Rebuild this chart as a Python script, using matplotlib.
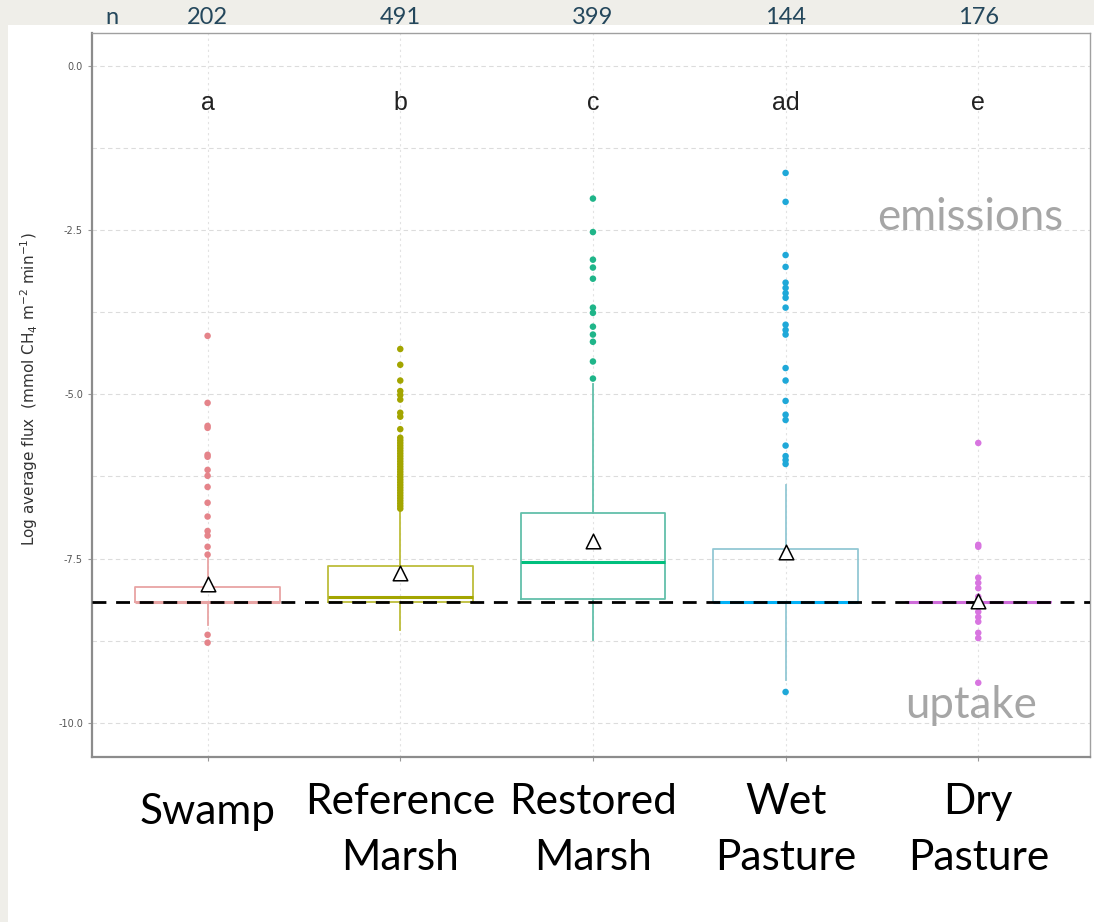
import matplotlib.pyplot as plt
import matplotlib.transforms as mtransforms
from matplotlib.patches import Rectangle

# Дані
sites = ["Swamp", "Reference\nMarsh", "Restored\nMarsh", "Wet\nPasture", "Dry\nPasture"]
n_obs = [202, 491, 399, 144, 176]
groups = ["a", "b", "c", "ad", "e"]

q1 = [-8.16, -8.16, -8.11, -8.16, -8.16]
medians = [-8.16, -8.08, -7.55, -8.16, -8.16]
q3 = [-7.93, -7.61, -6.80, -7.35, -8.16]
whis_lo = [-8.51, -8.58, -8.74, -9.35, -8.16]
whis_hi = [-7.49, -6.79, -4.84, -6.38, -8.16]
means = [-7.88, -7.72, -7.23, -7.40, -8.15]

out_swamp = [-4.11, -5.13, -5.48, -5.51, -5.92, -5.95, -6.15, -6.24, -6.41, -6.65,
             -6.86, -7.08, -7.15, -7.32, -7.44, -8.66, -8.78]
out_ref = [-4.31, -4.55, -4.79, -4.95, -5.01, -5.08, -5.28, -5.34, -5.53,
           -5.66, -5.70, -5.74, -5.78, -5.82, -5.86, -5.90, -5.94, -5.98, -6.02,
           -6.06, -6.10, -6.14, -6.18, -6.22, -6.26, -6.30, -6.34, -6.38, -6.42,
           -6.46, -6.50, -6.54, -6.58, -6.62, -6.66, -6.70, -6.74]
out_restored = [-2.02, -2.53, -2.95, -3.07, -3.24, -3.68, -3.76, -3.97, -4.09,
                -4.20, -4.50, -4.76]
out_wet = [-1.63, -2.07, -2.88, -3.06, -3.30, -3.38, -3.46, -3.53, -3.68, -3.94,
           -4.02, -4.09, -4.60, -4.79, -5.10, -5.31, -5.39, -5.78, -5.94, -6.00,
           -6.06, -9.53]
out_dry = [-5.74, -7.29, -7.32, -7.79, -7.87, -7.95, -8.08, -8.13, -8.31, -8.39,
           -8.46, -8.63, -8.71, -9.39]
outliers = [out_swamp, out_ref, out_restored, out_wet, out_dry]

zero_flux = -8.16

point_colors = ["#E5848A", "#A3A500", "#1FB589", "#1FA8D8", "#D875E0"]
box_colors = ["#E8A4A4", "#BDBD3A", "#62BFAA", "#93C8D4", "#DA8DE2"]
median_colors = ["#E8A4A4", "#A3A500", "#00BF7D", "#00B0F6", "#CF6BDA"]

fig = plt.figure(figsize=(10.94, 9.22), dpi=100, facecolor="#efeee9")
fig.add_artist(Rectangle((8 / 1094, 0), 1, (922 - 25) / 922, transform=fig.transFigure,
                         facecolor="white", edgecolor="none", zorder=-10))

ax = fig.add_axes([92 / 1094, 1 - 757 / 922, (1090 - 92) / 1094, (757 - 33) / 922])
ax.set_facecolor("white")

x = [1, 2, 3, 4, 5]
ax.set_xlim(0.4, 5.58)
ax.set_ylim(-10.52, 0.50)

# сітка
for yv in [0.0, -1.25, -2.5, -3.75, -5.0, -6.25, -7.5, -8.75, -10.0]:
    ax.axhline(yv, color="#dcdcdc", lw=0.8, ls=(0, (4, 3)), zorder=0)
for xv in x:
    ax.axvline(xv, color="#e2e2e2", lw=0.8, ls=(0, (2, 3)), zorder=0)

# boxplots
stats = []
for i in range(5):
    stats.append(dict(q1=q1[i], med=medians[i], q3=q3[i], whislo=whis_lo[i],
                      whishi=whis_hi[i], fliers=[]))
for i in range(5):
    ax.bxp([stats[i]], positions=[x[i]], widths=0.75, showfliers=False, showcaps=False,
           boxprops=dict(color=box_colors[i], lw=1.3),
           whiskerprops=dict(color=box_colors[i], lw=1.3),
           medianprops=dict(color=median_colors[i], lw=2.2))
    ax.scatter([x[i]] * len(outliers[i]), outliers[i], s=22, color=point_colors[i],
               edgecolors="none", zorder=3)

ax.axhline(zero_flux, color="black", lw=2, ls=(0, (5, 3.5)), zorder=4)

ax.scatter(x, means, marker="^", s=110, facecolors="white", edgecolors="black",
           linewidths=1.1, zorder=5)

# букви груп
for i in range(5):
    ax.text(x[i], -0.56, groups[i], ha="center", va="center", fontsize=18,
            family="Liberation Sans", color="#222222")

ax.text(4.96, -2.31, "emissions", ha="center", va="center", fontsize=31.5,
        family="Lato", color="#a6a6a6")
ax.text(4.96, -9.74, "uptake", ha="center", va="center", fontsize=31.5,
        family="Lato", color="#a6a6a6")

# осі
ax.set_yticks([0.0, -2.5, -5.0, -7.5, -10.0])
ax.set_yticklabels(["0.0", "-2.5", "-5.0", "-7.5", "-10.0"], fontsize=7, color="#555555")
ax.set_xticks(x)
ax.set_xticklabels([])
ax.tick_params(length=3, color="#999999")
ax.set_ylabel(r"Log average flux  (mmol CH$_4$ m$^{-2}$ min$^{-1}$)", fontsize=11,
              color="#333333")
ax.yaxis.set_label_coords(-0.052, 0.508)

for s in ["left", "bottom"]:
    ax.spines[s].set_color("#8c8c8c")
    ax.spines[s].set_linewidth(1.6)
for s in ["top", "right"]:
    ax.spines[s].set_color("#a0a0a0")
    ax.spines[s].set_linewidth(1.0)

trans = mtransforms.blended_transform_factory(ax.transData, fig.transFigure)
ax.text(112 / 1094, 1 - 18 / 922, "n", transform=fig.transFigure, ha="center", va="center",
        fontsize=17, family="Lato", color="#24475c")
for i in range(5):
    ax.text(x[i], 1 - 18 / 922, str(n_obs[i]), transform=trans, ha="center", va="center",
            fontsize=17, family="Lato", color="#24475c")

# підписи категорій
label_y = [812, 830, 830, 830, 830]
for i in range(5):
    ax.text(x[i], 1 - label_y[i] / 922, sites[i], transform=trans, ha="center",
            va="center", fontsize=30.5, family="Lato", color="black", linespacing=1.55)

fig.savefig("out.png", dpi=100, facecolor=fig.get_facecolor())
